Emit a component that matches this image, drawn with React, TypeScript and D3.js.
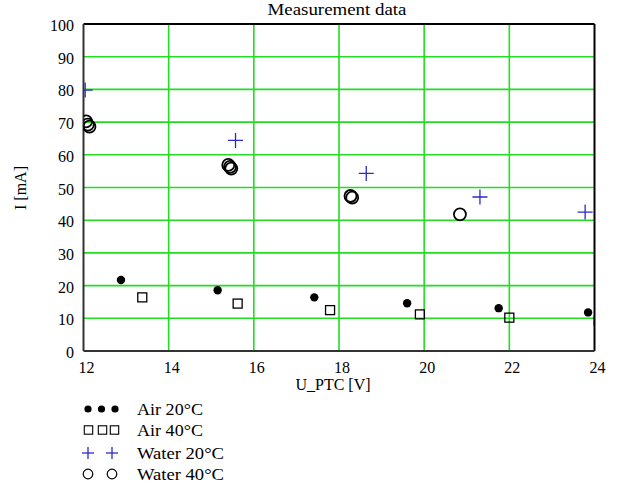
import React from "react";
import * as d3 from "d3";

const xTicks = [12, 14, 16, 18, 20, 22, 24];
const yTicks = [0, 10, 20, 30, 40, 50, 60, 70, 80, 90, 100];

const air20X = [12.88, 15.15, 17.42, 19.6, 21.75, 23.85];
const air20Y = [21.7, 18.6, 16.4, 14.6, 13.1, 11.8];
const air40X = [13.38, 15.62, 17.79, 19.9, 22.0, 24.1];
const air40Y = [16.4, 14.5, 12.5, 11.2, 10.2, 9.2];
const water20X = [12.04, 15.57, 18.64, 21.31, 23.78];
const water20Y = [79.8, 64.4, 54.3, 47.1, 42.5];
const water40X = [12.06, 12.1, 12.14, 15.4, 15.44, 15.47, 18.27, 18.31, 20.84];
const water40Y = [70.2, 69.2, 68.6, 56.9, 56.3, 55.8, 47.4, 46.9, 41.8];

const legendLabels = ["Air 20\u00B0C", "Air 40\u00B0C", "Water 20\u00B0C", "Water 40\u00B0C"];

const FONT = "Liberation Serif, Times New Roman, DejaVu Serif, serif";
const GRID = "#22dd22";
const BLUE = "#2a2ac8";

export default function App() {
  const W = 622, H = 494;
  const x = d3.scaleLinear().domain([12, 24]).range([83.5, 594.5]);
  const y = d3.scaleLinear().domain([0, 100]).range([351, 24]);
  const [x0, x1] = x.range();
  const [y0, y1] = y.range();

  const plus = (cx: number, cy: number, s: number, key: string) => (
    <g key={key} stroke={BLUE} strokeWidth={1.3}>
      <line x1={cx - s} x2={cx + s} y1={cy} y2={cy} />
      <line x1={cx} x2={cx} y1={cy - s} y2={cy + s} />
    </g>
  );

  const legendY = [409, 430, 453, 474];
  const legendW = [66, 66, 87, 87];
  const txt = { fontFamily: FONT, fontSize: 16 } as React.CSSProperties;

  return (
    <svg width={W} height={H} style={{ position: "absolute", left: 0, top: 0, background: "#fff", fontFamily: FONT }}>
      <defs>
        <clipPath id="plotclip">
          <rect x={x0} y={y1} width={x1 - x0} height={y0 - y1} />
        </clipPath>
      </defs>
      <rect width={W} height={H} fill="#fff" />
      <text x={337} y={15} textAnchor="middle" style={txt} textLength={139} lengthAdjust="spacingAndGlyphs">Measurement data</text>

      {/* grid */}
      {xTicks.slice(1, -1).map((t) => (
        <line key={"gx" + t} x1={x(t)} x2={x(t)} y1={y1} y2={y0} stroke={GRID} strokeWidth={1.6} />
      ))}
      {yTicks.slice(1, -1).map((t) => (
        <line key={"gy" + t} x1={x0} x2={x1} y1={y(t)} y2={y(t)} stroke={GRID} strokeWidth={1.6} />
      ))}
      <line x1={x0} x2={x1} y1={y1} y2={y1} stroke="#000" strokeWidth={2} />
      <line x1={x1} x2={x1} y1={y1} y2={y0} stroke="#000" strokeWidth={2} />
      <line x1={x0} x2={x0} y1={y1} y2={y0} stroke="#333" strokeWidth={2} />
      <line x1={x0} x2={x1} y1={y0} y2={y0} stroke="#333" strokeWidth={2} />

      {/* tick labels */}
      {yTicks.map((t) => (
        <text key={"yl" + t} x={74} y={y(t) + 7} textAnchor="end" style={txt}>{t}</text>
      ))}
      {xTicks.map((t) => (
        <text key={"xl" + t} x={x(t) + 3} y={373} textAnchor="middle" style={txt}>{t}</text>
      ))}
      <text x={333} y={390} textAnchor="middle" style={txt}>U_PTC [V]</text>
      <text transform="translate(26,188) rotate(-90)" textAnchor="middle" style={txt}>I [mA]</text>

      {/* data */}
      <g clipPath="url(#plotclip)">
        {air20X.map((v, i) => (
          <circle key={"a20" + i} cx={x(v)} cy={y(air20Y[i])} r={4.2} fill="#000" />
        ))}
        {air40X.map((v, i) => (
          <rect key={"a40" + i} x={x(v) - 4.5} y={y(air40Y[i]) - 4.5} width={9} height={9} fill="none" stroke="#000" strokeWidth={1.3} />
        ))}
        {water20X.map((v, i) => plus(x(v), y(water20Y[i]), 7.5, "w20" + i))}
        {water40X.map((v, i) => (
          <circle key={"w40" + i} cx={x(v)} cy={y(water40Y[i])} r={6} fill="none" stroke="#000" strokeWidth={1.8} />
        ))}
      </g>

      {/* legend */}
      {[88, 101.5, 115].map((cx, i) => (
        <circle key={"l1" + i} cx={cx} cy={legendY[0]} r={3.6} fill="#000" />
      ))}
      {[88.5, 102.5, 114.5].map((cx, i) => (
        <rect key={"l2" + i} x={cx - 4.2} y={legendY[1] - 4.2} width={8.4} height={8.4} fill="none" stroke="#000" strokeWidth={1.1} />
      ))}
      {[88, 112].map((cx, i) => plus(cx, legendY[2], 6, "l3" + i))}
      {[88, 112].map((cx, i) => (
        <circle key={"l4" + i} cx={cx} cy={legendY[3]} r={4.8} fill="none" stroke="#000" strokeWidth={1.2} />
      ))}
      {legendLabels.map((s, i) => (
        <text key={"lt" + i} x={137} y={legendY[i] + 6} style={txt} textLength={legendW[i]} lengthAdjust="spacingAndGlyphs">{s}</text>
      ))}
    </svg>
  );
}
